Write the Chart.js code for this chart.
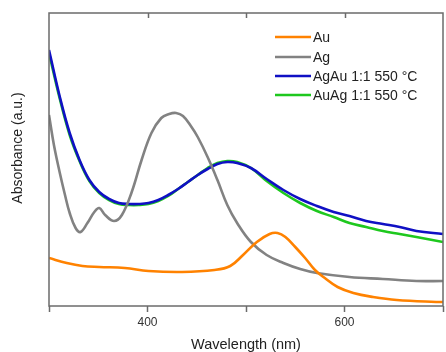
<!DOCTYPE html>
<html>
<head>
<meta charset="utf-8">
<script src="https://cdn.jsdelivr.net/npm/chart.js@4/dist/chart.umd.min.js"></script>
<style>
  html, body { margin: 0; padding: 0; background: #fff; }
  canvas { display: block; }
</style>
</head>
<body>
<canvas id="uvvis" width="446" height="352"></canvas>
<script>
// ─── Data (wavelength in nm, absorbance in a.u.) ─────────────────
const auWl  = [300, 318, 334, 351, 377, 401, 435, 468, 484, 497, 511, 524, 532, 540, 550, 560, 570, 580, 593, 609, 629, 653, 693, 700];
const auAbs = [48, 43, 40, 39, 38, 35, 34, 36, 40, 51, 64, 72, 73, 69, 59, 48, 36, 28, 19, 13, 9, 6, 4, 4];

const agWl  = [300, 305, 311, 316, 321, 327, 332, 339, 346, 351, 357, 366, 374, 384, 394, 404, 414, 422, 429, 436, 444, 451, 461, 471, 481, 491, 505, 521, 538, 555, 572, 605, 639, 673, 700];
const agAbs = [191, 161, 133, 112, 93, 78, 74, 83, 94, 98, 91, 85, 91, 114, 146, 173, 188, 192, 193, 190, 180, 169, 149, 126, 101, 83, 64, 51, 43, 37, 33, 29, 27, 25, 25];

const alloyWl  = [300, 311, 321, 331, 341, 351, 361, 371, 381, 391, 401, 411, 421, 431, 441, 451, 461, 471, 481, 491, 505, 521, 538, 555, 572, 589, 605, 622, 639, 656, 673, 700];
const agauAbs  = [256, 209, 173, 146, 126, 114, 107, 103, 102, 102, 103, 106, 111, 117, 124, 131, 137, 142, 144, 143, 138, 127, 116, 107, 100, 94, 90, 85, 82, 79, 75, 72];
const auagAbs  = [253, 207, 171, 145, 125, 113, 106, 102, 101, 101, 102, 105, 110, 117, 124, 131, 138, 143, 145, 144, 138, 125, 113, 103, 95, 89, 83, 79, 75, 72, 69, 64];

const xTicksShown = [400, 600];
const labels = ['Au', 'Ag', 'AgAu 1:1 550 °C', 'AuAg 1:1 550 °C'];

const FONT = "'Liberation Sans', Arial, sans-serif";
const axisColor = '#6b6b6b';

function pts(xs, ys) {
  return xs.map((x, i) => ({ x, y: ys[i] }));
}

function series(label, data, color) {
  return {
    label,
    data,
    borderColor: color,
    backgroundColor: color,
    borderWidth: 2.6,
    pointRadius: 0,
    tension: 0.4,
    fill: false
  };
}

// ─── Frame, top ticks, legend and y title ────────────────────────
const decor = {
  id: 'decor',
  afterDraw(chart) {
    const { ctx, chartArea: a, scales: { x } } = chart;
    ctx.save();

    ctx.strokeStyle = axisColor;
    ctx.lineWidth = 1.5;
    ctx.strokeRect(a.left, a.top, a.right - a.left, a.bottom - a.top);

    // inward ticks on top edge
    [400, 500, 600].forEach(v => {
      const px = Math.round(x.getPixelForValue(v)) + 0.5;
      ctx.beginPath();
      ctx.moveTo(px, a.top);
      ctx.lineTo(px, a.top + 5);
      ctx.stroke();
    });

    // legend
    const rowY = [37, 57, 76, 95];
    ctx.font = '14px ' + FONT;
    ctx.textBaseline = 'middle';
    ctx.textAlign = 'left';
    chart.data.datasets.forEach((ds, i) => {
      ctx.strokeStyle = ds.borderColor;
      ctx.lineWidth = 2.6;
      ctx.beginPath();
      ctx.moveTo(275, rowY[i]);
      ctx.lineTo(311, rowY[i]);
      ctx.stroke();
      ctx.fillStyle = '#222';
      ctx.fillText(ds.label, 313, rowY[i] + 1);
    });

    // y axis title
    ctx.translate(18, 148);
    ctx.rotate(-Math.PI / 2);
    ctx.textAlign = 'center';
    ctx.fillStyle = '#222';
    ctx.font = '14px ' + FONT;
    ctx.fillText('Absorbance (a.u.)', 0, 0);

    ctx.restore();
  }
};

new Chart(document.getElementById('uvvis'), {
  type: 'line',
  data: {
    datasets: [
      series(labels[0], pts(auWl, auAbs), '#ff8200'),
      series(labels[1], pts(agWl, agAbs), '#828282'),
      series(labels[2], pts(alloyWl, agauAbs), '#1010c4'),
      series(labels[3], pts(alloyWl, auagAbs), '#1ec81e')
    ]
  },
  options: {
    responsive: false,
    animation: false,
    devicePixelRatio: 1,
    layout: { padding: { top: 13, right: 0, bottom: 0, left: 0 } },
    plugins: {
      legend: { display: false },
      tooltip: { enabled: false }
    },
    scales: {
      x: {
        type: 'linear',
        min: 300,
        max: 700,
        afterFit: s => { s.height = 46; },
        ticks: {
          stepSize: 100,
          color: '#333',
          padding: 3,
          font: { family: FONT, size: 12 },
          callback: v => xTicksShown.includes(v) ? String(v) : ''
        },
        grid: {
          drawOnChartArea: false,
          tickLength: 6,
          tickColor: axisColor,
          tickWidth: 1.5
        },
        border: { display: false },
        title: {
          display: true,
          text: 'Wavelength (nm)',
          color: '#222',
          font: { family: FONT, size: 14.5 },
          padding: { top: 0, bottom: -2 }
        }
      },
      y: {
        min: 0,
        max: 293,
        afterFit: s => { s.width = 49; },
        ticks: { display: false },
        grid: { display: false },
        border: { display: false }
      }
    }
  },
  plugins: [decor]
});
</script>
</body>
</html>
